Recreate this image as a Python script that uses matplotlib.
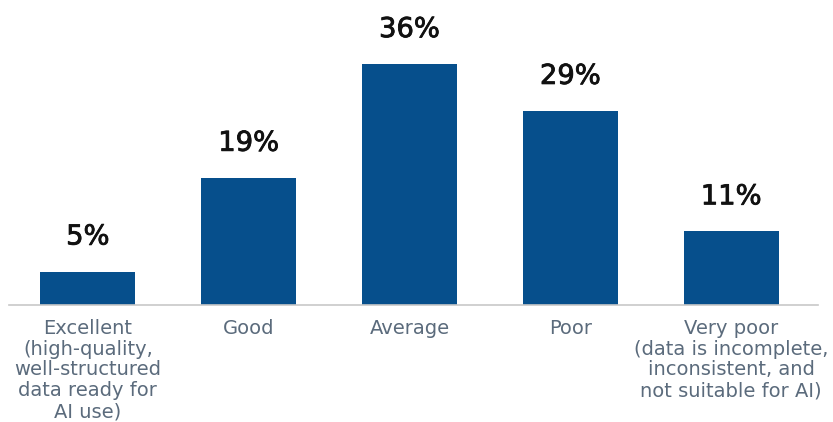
import matplotlib
matplotlib.use('Agg')
import matplotlib.pyplot as plt
import matplotlib.patheffects as pe
import numpy as np

plt.rcParams['font.family'] = ['DejaVu Sans']

categories = [
    'Excellent\n(high-quality,\nwell-structured\ndata ready for\nAI use)',
    'Good',
    'Average',
    'Poor',
    'Very poor\n(data is incomplete,\ninconsistent, and\nnot suitable for AI)',
]
shares = [5, 19, 36, 29, 11]

bar_color = '#064f8c'
label_color = '#5b6b7c'

fig = plt.figure(figsize=(8.33, 4.22), dpi=100)
ax = fig.add_axes([9 / 833, 1 - 305 / 422, 809 / 833, 267.6 / 422])

x = np.arange(len(categories))
bars = ax.bar(x, shares, width=0.59, color=bar_color)

# value labels, thickened a little for a medium weight
for rect, v in zip(bars, shares):
    ax.annotate(f'{v}%', (rect.get_x() + rect.get_width() / 2, v),
                xytext=(0, 19.5), textcoords='offset points',
                ha='center', va='baseline', fontsize=19.7, color='#111111',
                path_effects=[pe.withStroke(linewidth=0.6, foreground='#111111')])

ax.set_xlim(-0.49, 4.54)
ax.set_ylim(0, 40)
ax.set_xticks(x)
ax.set_xticklabels(categories, fontsize=14, color=label_color, linespacing=1.12)
ax.tick_params(axis='x', length=0, pad=10)
ax.set_yticks([])

for side in ['top', 'left', 'right']:
    ax.spines[side].set_visible(False)
ax.spines['bottom'].set_color('#c8c8c8')
ax.spines['bottom'].set_linewidth(1.2)

fig.savefig('out.png', dpi=100)
